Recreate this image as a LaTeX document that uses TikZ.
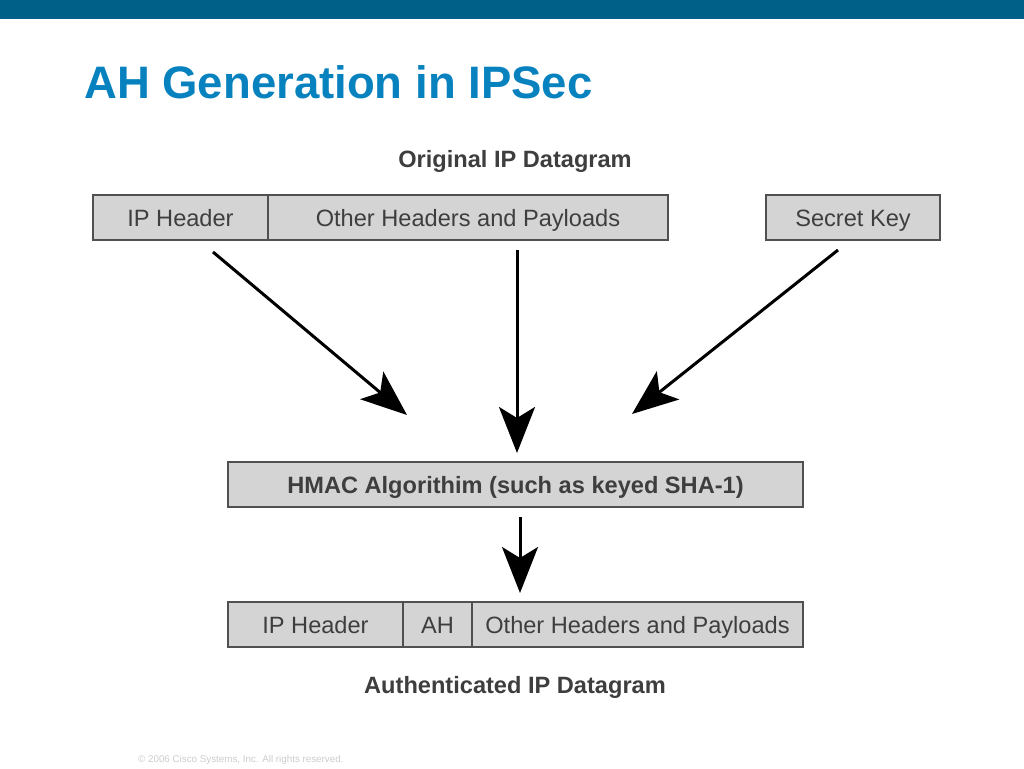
\documentclass[tikz,border=0pt]{standalone}
\usepackage{fontspec}
\setmainfont{Liberation Sans}
\usetikzlibrary{positioning,arrows.meta}

\definecolor{ciscobar}{RGB}{0,96,136}
\definecolor{ciscotitle}{RGB}{8,130,190}
\definecolor{boxgray}{RGB}{212,212,212}
\definecolor{linegray}{RGB}{80,80,80}
\definecolor{textgray}{RGB}{62,62,62}

\tikzset{
  field/.style={draw=linegray, line width=1.5pt, fill=boxgray, text=textgray,
    inner sep=0pt, outer sep=0pt, minimum height=45pt,
    text height=20pt, text depth=2pt, font=\fontsize{23.6}{27}\selectfont},
  caption/.style={text=textgray, inner sep=0pt, font=\fontsize{23.6}{27}\selectfont\bfseries},
  flow/.style={line width=3pt, -{Stealth[length=46pt, width=36pt, inset=11pt]}}
}

\begin{document}
\begin{tikzpicture}[x=1pt,y=-1pt]
    \useasboundingbox (0,0) rectangle (1024,768);
    \fill[ciscobar] (0,0) rectangle (1024,19);
    \node[anchor=base west, inner sep=0pt, text=ciscotitle,
      font=\fontsize{45.5}{54}\selectfont\bfseries] (title) at (84,98) {AH Generation in IPSec};

    % original datagram and key
    \node[caption, anchor=base] (orig) at (515,167) {Original IP Datagram};
    \node[field, minimum width=175pt, anchor=north west] (iphdr) at (93,195) {IP Header};
    \node[field, minimum width=400pt, right=0pt of iphdr] (payload) {Other Headers and Payloads};
    \node[field, minimum width=174pt, anchor=north west] (key) at (766,195) {Secret Key};

    \node[field, minimum width=575pt, anchor=north west,
      font=\fontsize{23.6}{27}\selectfont\bfseries] (hmac) at (228,462) {HMAC Algorithim (such as keyed SHA-1)};

    % authenticated datagram
    \node[field, minimum width=175pt, anchor=north west] (ahip) at (228,602) {IP Header};
    \node[field, minimum width=69pt, right=0pt of ahip] (ah) {AH};
    \node[field, minimum width=331pt, right=0pt of ah] (ahpay) {Other Headers and Payloads};
    \node[caption, anchor=base] (auth) at (515,693) {Authenticated IP Datagram};

    \coordinate (hdrout) at (213,252);
    \coordinate (hdrin) at (407,415);
    \coordinate (payout) at (517,250);
    \coordinate (payin) at (517,453);
    \coordinate (keyout) at (838,250);
    \coordinate (keyin) at (632,414);
    \coordinate (macout) at (520,517);
    \coordinate (macin) at (520,593);
    \draw[flow] (hdrout) -- (hdrin);
    \draw[flow] (payout) -- (payin);
    \draw[flow] (keyout) -- (keyin);
    \draw[flow] (macout) -- (macin);

    \node[anchor=base west, inner sep=0pt, text=black!20,
      font=\fontsize{9.8}{11}\selectfont] (copy) at (138,762) {\textcopyright{} 2006 Cisco Systems, Inc. All rights reserved.};
\end{tikzpicture}
\end{document}
